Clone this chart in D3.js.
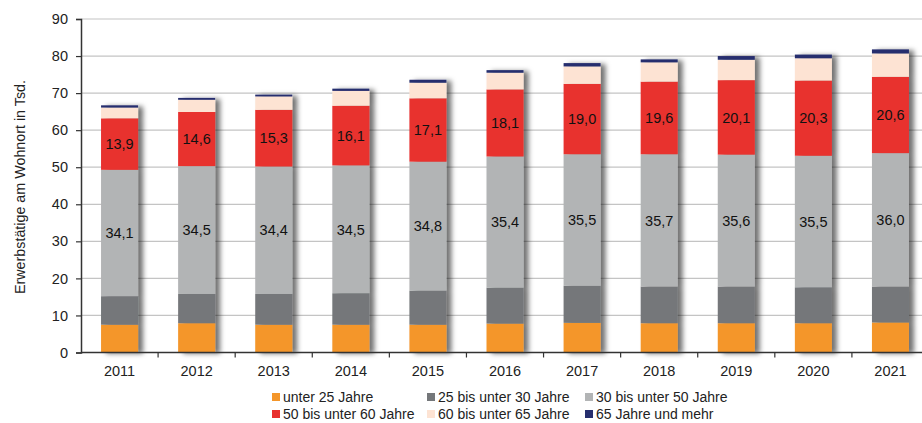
<!DOCTYPE html>
<html lang="de">
<head>
<meta charset="utf-8">
<title>Erwerbstätige am Wohnort</title>
<script src="https://d3js.org/d3.v7.min.js"></script>
<style>
  body { margin: 0; background: #fff; }
  svg { display: block; font-family: "Liberation Sans", Arial, sans-serif; }
</style>
</head>
<body>
<div class="chart"></div>
<script>
// data (Tsd.)
const years = ['2011','2012','2013','2014','2015','2016','2017','2018','2019','2020','2021'];
const groups = ['unter 25 Jahre','25 bis unter 30 Jahre','30 bis unter 50 Jahre',
                '50 bis unter 60 Jahre','60 bis unter 65 Jahre','65 Jahre und mehr'];
const unter25 = [7.5, 7.9, 7.5, 7.5, 7.5, 7.8, 8.0, 7.9, 7.9, 7.9, 8.1];
const bis30   = [7.7, 7.9, 8.3, 8.5, 9.2, 9.7, 10.0, 9.9, 9.9, 9.7, 9.7];
const bis50   = [34.1, 34.5, 34.4, 34.5, 34.8, 35.4, 35.5, 35.7, 35.6, 35.5, 36.0];
const bis60   = [13.9, 14.6, 15.3, 16.1, 17.1, 18.1, 19.0, 19.6, 20.1, 20.3, 20.6];
const bis65   = [2.9, 3.3, 3.6, 4.0, 4.2, 4.5, 4.7, 5.2, 5.5, 6.0, 6.3];
const ab65    = [0.6, 0.5, 0.5, 0.6, 0.8, 0.7, 0.9, 0.8, 1.0, 1.0, 1.1];
const yTicks  = [0, 10, 20, 30, 40, 50, 60, 70, 80, 90];

const colors = ['#f4962a', '#74777a', '#b2b4b5', '#e8302e', '#fde3d3', '#262e6e'];
const labelled = [2, 3]; // which series get value labels

const series = [unter25, bis30, bis50, bis60, bis65, ab65];
const rows = years.map((y, i) => {
  const r = { year: y };
  groups.forEach((g, k) => r[g] = series[k][i]);
  return r;
});
const stacked = d3.stack().keys(groups)(rows);

const width = 922, height = 423;
const plotL = 81, plotR = 929, plotT = 19, plotB = 352.5;

const svg = d3.select('.chart').append('svg')
  .attr('width', width)
  .attr('height', height);

const defs = svg.append('defs');
const f = defs.append('filter').attr('id', 'shadow')
  .attr('x', '-20%').attr('y', '-5%').attr('width', '160%').attr('height', '110%');
f.append('feDropShadow')
  .attr('dx', 5).attr('dy', 1)
  .attr('stdDeviation', 2.8)
  .attr('flood-color', '#000')
  .attr('flood-opacity', 0.55);

const x = d3.scaleBand().domain(years).range([plotL, plotR])
  .paddingInner(0.52).paddingOuter(0.26);
const y = d3.scaleLinear().domain([0, 90]).range([plotB, plotT]);

// gridlines
svg.append('g').selectAll('line')
  .data(yTicks.filter(t => t > 0))
  .enter().append('line')
  .attr('x1', plotL).attr('x2', width)
  .attr('y1', d => y(d)).attr('y2', d => y(d))
  .attr('stroke', '#c4c4c4')
  .attr('stroke-width', 1.2);

// bars
const barGroups = svg.append('g').selectAll('g.bar')
  .data(years)
  .enter().append('g')
  .attr('class', 'bar')
  .attr('filter', 'url(#shadow)');

barGroups.each(function(yr, i) {
  const g = d3.select(this);
  stacked.forEach((s, k) => {
    const d = s[i];
    g.append('rect')
      .attr('x', x(yr))
      .attr('width', x.bandwidth())
      .attr('y', y(d[1]))
      .attr('height', y(d[0]) - y(d[1]))
      .attr('fill', colors[k]);
  });
});

// value labels
const fmt = v => v.toFixed(1).replace('.', ',');
labelled.forEach(k => {
  svg.append('g').selectAll('text')
    .data(stacked[k])
    .enter().append('text')
    .attr('x', (d, i) => x(years[i]) + x.bandwidth() / 2)
    .attr('y', d => y((d[0] + d[1]) / 2))
    .attr('dy', '0.36em')
    .attr('text-anchor', 'middle')
    .attr('font-size', '14.5px')
    .attr('fill', '#111')
    .text(d => fmt(d[1] - d[0]));
});

// y axis
const yAxis = d3.axisLeft(y).tickValues(yTicks).tickSize(5).tickPadding(8);
const ya = svg.append('g')
  .attr('transform', `translate(${plotL},0)`)
  .call(yAxis);
ya.select('.domain').attr('stroke', '#333').attr('stroke-width', 1.5);
ya.selectAll('.tick line').attr('stroke', '#333').attr('stroke-width', 1.2);
ya.selectAll('.tick text')
  .attr('font-size', '14.5px')
  .attr('font-family', '"Liberation Sans", Arial, sans-serif')
  .attr('fill', '#222');

// x axis
const xa = svg.append('g')
  .attr('transform', `translate(0,${plotB})`)
  .call(d3.axisBottom(x).tickSize(0).tickPadding(13));
xa.select('.domain').remove();
xa.selectAll('.tick text')
  .attr('font-size', '14.5px')
  .attr('font-family', '"Liberation Sans", Arial, sans-serif')
  .attr('fill', '#222');
xa.append('line')
  .attr('x1', plotL).attr('x2', width)
  .attr('y1', 0).attr('y2', 0)
  .attr('stroke', '#333').attr('stroke-width', 1.5);
// tick marks between the years
const gap = (x.step() - x.bandwidth()) / 2;
xa.selectAll('line.sep')
  .data(years.slice(1))
  .enter().append('line')
  .attr('class', 'sep')
  .attr('x1', d => x(d) - gap).attr('x2', d => x(d) - gap)
  .attr('y1', 0).attr('y2', 5)
  .attr('stroke', '#333').attr('stroke-width', 1.2);

// y title
svg.append('text')
  .attr('transform', `translate(20,187) rotate(-90)`)
  .attr('text-anchor', 'middle')
  .attr('dy', '0.36em')
  .attr('font-size', '14.3px')
  .attr('fill', '#222')
  .text('Erwerbstätige am Wohnort in Tsd.');

// legend
const legendPos = [[272, 397], [427, 397], [585, 397], [272, 414], [427, 414], [585, 414]];
const legend = svg.append('g').selectAll('g')
  .data(groups)
  .enter().append('g')
  .attr('transform', (d, i) => `translate(${legendPos[i][0]},${legendPos[i][1]})`);
legend.append('rect')
  .attr('x', 0).attr('y', -4)
  .attr('width', 8).attr('height', 8)
  .attr('fill', (d, i) => colors[i]);
legend.append('text')
  .attr('x', 11)
  .attr('dy', '0.36em')
  .attr('font-size', '14px')
  .attr('fill', '#222')
  .text(d => d);
</script>
</body>
</html>
